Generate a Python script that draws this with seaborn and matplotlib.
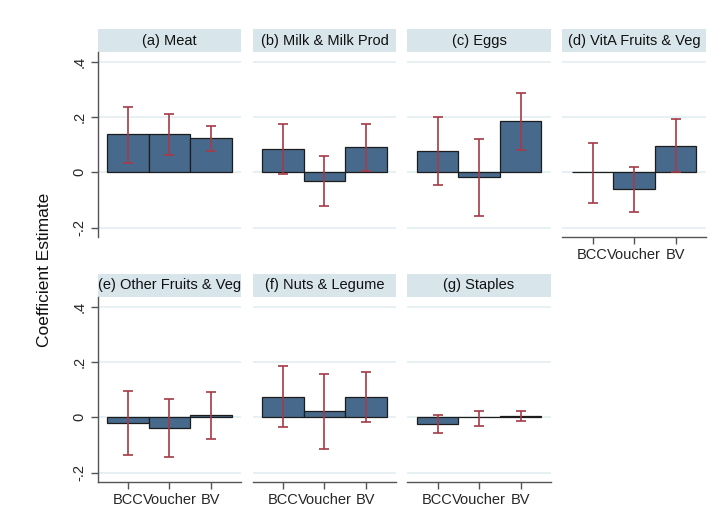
import matplotlib
matplotlib.use("Agg")
import matplotlib.pyplot as plt
import seaborn as sns
import pandas as pd
import numpy as np
from matplotlib.patches import Rectangle

sns.set_theme(style="white")
plt.rcParams['font.family'] = ['Liberation Sans', 'DejaVu Sans']

arms = ["BCC", "Voucher", "BV"]
panels = ["(a) Meat", "(b) Milk & Milk Prod", "(c) Eggs", "(d) VitA Fruits & Veg",
          "(e) Other Fruits & Veg", "(f) Nuts & Legume", "(g) Staples"]

meat_coef = [0.137, 0.140, 0.124]
meat_lo = [0.035, 0.064, 0.077]
meat_hi = [0.235, 0.210, 0.169]

milk_coef = [0.083, -0.031, 0.093]
milk_lo = [-0.007, -0.123, 0.006]
milk_hi = [0.173, 0.059, 0.176]

eggs_coef = [0.078, -0.018, 0.186]
eggs_lo = [-0.046, -0.157, 0.081]
eggs_hi = [0.201, 0.119, 0.287]

vita_coef = [0.0, -0.061, 0.095]
vita_lo = [-0.110, -0.143, 0.0]
vita_hi = [0.107, 0.019, 0.192]

other_coef = [-0.020, -0.038, 0.008]
other_lo = [-0.136, -0.143, -0.080]
other_hi = [0.096, 0.066, 0.092]

nuts_coef = [0.074, 0.024, 0.074]
nuts_lo = [-0.036, -0.114, -0.018]
nuts_hi = [0.184, 0.156, 0.163]

staples_coef = [-0.023, 0.001, 0.006]
staples_lo = [-0.056, -0.030, -0.014]
staples_hi = [0.010, 0.022, 0.022]

yticks = [-0.2, 0.0, 0.2, 0.4]
ytick_labels = ["-.2", "0", ".2", ".4"]

series = [
    (meat_coef, meat_lo, meat_hi),
    (milk_coef, milk_lo, milk_hi),
    (eggs_coef, eggs_lo, eggs_hi),
    (vita_coef, vita_lo, vita_hi),
    (other_coef, other_lo, other_hi),
    (nuts_coef, nuts_lo, nuts_hi),
    (staples_coef, staples_lo, staples_hi),
]

BAR = "#476a8c"
ERR = "#a63a47"
GRID = "#e3edf0"
STRIP = "#d8e5eb"
SPINE = "#555555"

W, H = 727, 530
fig = plt.figure(figsize=(W / 100, H / 100), dpi=100)
fig.patch.set_facecolor("white")

col_left = [97.7, 252.7, 407.3, 562.3]
col_w = 143.5
row_top = [52, 297]
row_h = 185
strip_h = 23

# which panels show x axis: d (idx 3), e, f, g
show_x = {3, 4, 5, 6}

for i, (title, (coef, lo, hi)) in enumerate(zip(panels, series)):
    r, c = divmod(i, 4)
    left = col_left[c] / W
    bottom = 1 - (row_top[r] + row_h) / H
    ax = fig.add_axes([left, bottom, col_w / W, row_h / H])
    df = pd.DataFrame({"arm": arms, "coef": coef})
    for y in yticks:
        ax.axhline(y, color=GRID, lw=1.2, zorder=0)
    sns.barplot(data=df, x="arm", y="coef", ax=ax, color=BAR, saturation=1,
                width=1.0, edgecolor="#1c1c1c", linewidth=0.9, errorbar=None, zorder=2)
    coef_a = np.array(coef)
    ax.errorbar(np.arange(3), coef_a,
                yerr=[coef_a - np.array(lo), np.array(hi) - coef_a],
                fmt="none", ecolor=ERR, elinewidth=1.2, capsize=3.5, capthick=1.2, zorder=3)
    ax.set_xlim(-0.73, 2.73)
    ax.set_ylim(-0.234, 0.435)
    ax.set_xlabel("")
    ax.set_ylabel("")
    ax.set_yticks(yticks)
    for s in ["top", "right"]:
        ax.spines[s].set_visible(False)
    ax.spines["left"].set_visible(c == 0)
    ax.spines["bottom"].set_visible(i in show_x)
    for s in ["left", "bottom"]:
        ax.spines[s].set_color(SPINE)
        ax.spines[s].set_linewidth(1.0)
    if c == 0:
        ax.set_yticklabels(ytick_labels, rotation=90, va="center", fontsize=10.5)
        ax.tick_params(axis="y", length=5, width=1, color=SPINE, pad=3, left=True)
    else:
        ax.tick_params(axis="y", left=False, labelleft=False)
    if i in show_x:
        ax.set_xticks(range(3))
        ax.set_xticklabels(arms, fontsize=10.5)
        ax.tick_params(axis="x", length=5, width=1, color=SPINE, pad=3, bottom=True)
    else:
        ax.tick_params(axis="x", bottom=False, labelbottom=False)
    ax.set_facecolor("white")
    ax.add_patch(Rectangle((0, 1), 1, strip_h / row_h, transform=ax.transAxes,
                           facecolor=STRIP, edgecolor="none", clip_on=False))
    ax.text(0.5, 1 + strip_h / row_h / 2, title, transform=ax.transAxes,
            ha="center", va="center", fontsize=10.5, color="#111111")

fig.text(45 / W, 1 - 270 / H, "Coefficient Estimate", rotation=90,
         ha="center", va="center", fontsize=12.5, color="#111111")

fig.savefig("out.png", dpi=100, facecolor="white")
